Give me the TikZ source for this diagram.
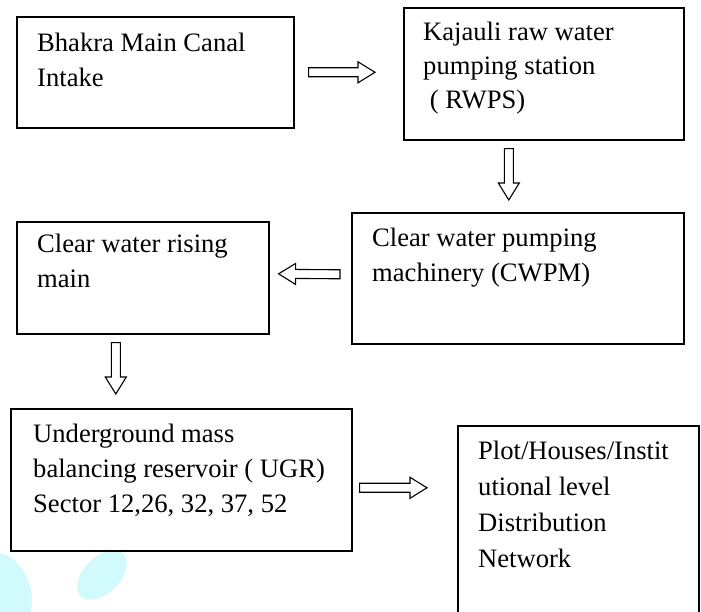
\documentclass[tikz,border=0pt]{standalone}
\usepackage{fontspec}
\setmainfont{Liberation Serif}
\usetikzlibrary{calc}
\definecolor{leafcyan}{RGB}{208,250,252}
\newcommand{\stagefont}{\fontsize{26.6}{35}\selectfont}

\begin{document}
\begin{tikzpicture}[x=1pt, y=1pt,
    stage/.style={rectangle, draw, line width=1.6pt, inner sep=0pt, anchor=north west},
    stagetext/.style={anchor=base west, inner sep=0pt, align=left, font=\stagefont},
    blockarrow/.style={draw, line width=1.1pt, line join=miter, to path={
        ($(\tikztostart)!4.5pt!90:(\tikztotarget)$)
        -- ($($(\tikztotarget)!17pt!(\tikztostart)$)!4.5pt!90:(\tikztotarget)$)
        -- ($($(\tikztotarget)!17pt!(\tikztostart)$)!10.5pt!90:(\tikztotarget)$)
        -- (\tikztotarget)
        -- ($($(\tikztotarget)!17pt!(\tikztostart)$)!10.5pt!-90:(\tikztotarget)$)
        -- ($($(\tikztotarget)!17pt!(\tikztostart)$)!4.5pt!-90:(\tikztotarget)$)
        -- ($(\tikztostart)!4.5pt!-90:(\tikztotarget)$) -- cycle}}]
    \useasboundingbox (0,0) rectangle (701,612);
    \clip (0,0) rectangle (701,612);

    \fill[leafcyan, rotate around={20:(6,22)}] (6,22) ellipse (24pt and 38pt);
    \fill[leafcyan, rotate around={45:(102,37)}] (102,37) ellipse (30pt and 18pt);

    \node[stage, minimum width=277pt, minimum height=111pt] (intake) at (16,596) {};
    \node[stage, minimum width=280pt, minimum height=132pt] (rwps) at (403,605) {};
    \node[stage, minimum width=332pt, minimum height=131pt] (cwpm) at (351,400) {};
    \node[stage, minimum width=252pt, minimum height=112pt] (risingmain) at (16,391) {};
    \node[stage, minimum width=341pt, minimum height=142pt] (ugr) at (10,204) {};
    \node[stage, minimum width=241pt, minimum height=197pt] (network) at (457,187) {};

    % base anchor sits on the last line
    \node[stagetext] (intaketext) at ($(intake.north west)+(21pt,-71pt)$) {Bhakra Main Canal\\Intake};
    \node[stagetext, font=\fontsize{26.6}{34}\selectfont] (rwpstext) at ($(rwps.north west)+(20pt,-102pt)$) {Kajauli raw water\\pumping station\\\hspace{0.25em}( RWPS)};
    \node[stagetext] (cwpmtext) at ($(cwpm.north west)+(21pt,-70pt)$) {Clear water pumping\\machinery (CWPM)};
    \node[stagetext] (risingmaintext) at ($(risingmain.north west)+(21pt,-67pt)$) {Clear water rising\\main};
    \node[stagetext] (ugrtext) at ($(ugr.north west)+(23pt,-105pt)$) {Underground mass\\balancing reservoir ( UGR)\\Sector 12,26, 32, 37, 52};
    \node[stagetext, font=\fontsize{26.6}{36}\selectfont] (networktext) at ($(network.north west)+(21pt,-143pt)$) {Plot/Houses/Instit\\utional level\\Distribution\\Network};

    \draw[blockarrow] ($(intake.east)+(14pt,0)$) to ($(intake.east -| rwps.west)+(-28pt,0)$);
    \draw[blockarrow] ($(rwps.south)+(-35pt,-8pt)$) to ($(rwps.south |- cwpm.north)+(-35pt,12pt)$);
    \draw[blockarrow] ($(cwpm.west)+(-11pt,4pt)$) to ($(risingmain.east)+(9pt,4pt)$);
    \draw[blockarrow] ($(risingmain.south)+(-27pt,-8pt)$) to ($(risingmain.south |- ugr.north)+(-27pt,14pt)$);
    \draw[blockarrow] ($(ugr.east)+(7pt,-8pt)$) to ($(network.west |- ugr.east)+(-30pt,-8pt)$);
\end{tikzpicture}
\end{document}
